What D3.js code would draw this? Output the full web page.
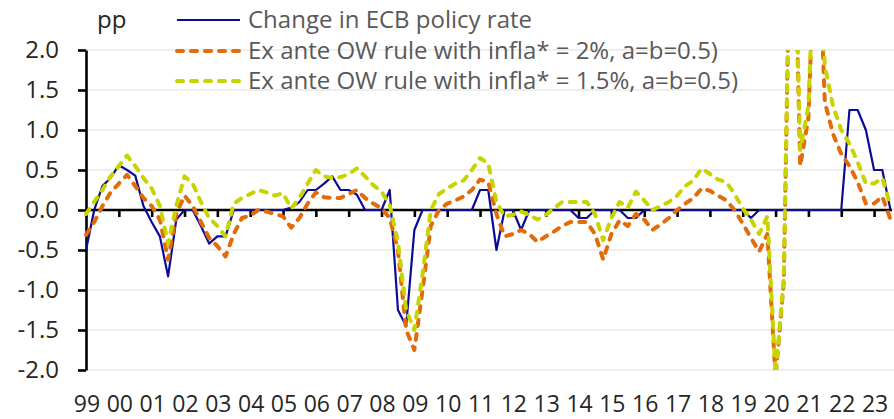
<!DOCTYPE html>
<html><head><meta charset="utf-8">
<script src="https://cdn.jsdelivr.net/npm/d3@7"></script>
<style>
html,body{margin:0;padding:0;background:#fff;}
svg{display:block;font-family:"Open Sans",sans-serif;}
</style></head>
<body><svg id="chart" width="894" height="419"></svg>
<script>
// ---- data ----
const yearLabels = ["99","00","01","02","03","04","05","06","07","08","09","10","11","12","13","14","15","16","17","18","19","20","21","22","23"];
const quarterNames = ["Q1","Q2","Q3","Q4"];
const categories = yearLabels.flatMap(y => quarterNames.map(q => y + q)).slice(0, 99);
const yTickValues = [-2, -1.5, -1, -0.5, 0, 0.5, 1, 1.5, 2];
const seriesNames = ["Change in ECB policy rate", "Ex ante OW rule with infla* = 2%, a=b=0.5)", "Ex ante OW rule with infla* = 1.5%, a=b=0.5)"];

const policyRate = [
 -0.5, 0.0, 0.3, 0.4, 0.56, 0.5, 0.43, 0.05, -0.15, -0.33, -0.83, -0.12,
 0, 0, -0.2, -0.42, -0.33, -0.33, 0, 0, 0, 0, 0, 0,
 0, 0.03, 0.1, 0.25, 0.25, 0.33, 0.42, 0.25, 0.25, 0.19, 0, 0,
 0, 0.25, -1.25, -1.45, -0.25, 0, 0, 0, 0, 0, 0, 0,
 0.25, 0.25, -0.5, 0, 0, -0.25, 0, 0, 0, 0, 0, 0,
 -0.1, -0.1, 0, 0, 0, 0, -0.1, -0.1, 0, 0, 0, 0,
 0, 0, 0, 0, 0, 0, 0, 0, 0, -0.1, 0, 0,
 0, 0, 0, 0, 0, 0, 0, 0, 0, 1.25, 1.25, 1.0,
 0.5, 0.5, 0
];
const owRule2 = [
 -0.31, -0.15, 0.05, 0.22, 0.33, 0.44, 0.3, 0.15, 0.05, -0.12, -0.62, -0.05,
 0.18, 0.05, -0.15, -0.35, -0.45, -0.58, -0.3, -0.1, -0.07, 0.0, -0.02, -0.05,
 -0.08, -0.22, -0.1, 0.08, 0.22, 0.16, 0.15, 0.15, 0.2, 0.25, 0.15, 0.08,
 0.02, -0.1, -0.5, -1.5, -1.75, -1.0, -0.2, 0.0, 0.08, 0.12, 0.17, 0.25,
 0.38, 0.35, -0.05, -0.33, -0.3, -0.25, -0.3, -0.4, -0.33, -0.27, -0.2, -0.15,
 -0.15, -0.15, -0.3, -0.62, -0.3, -0.13, -0.2, -0.05, -0.12, -0.25, -0.18, -0.1,
 0.0, 0.08, 0.15, 0.27, 0.24, 0.18, 0.12, 0.0, -0.17, -0.35, -0.52, -0.3,
 -2.1, -0.9, 5.0, 0.55, 1.15, 4.0, 1.35, 0.95, 0.7, 0.55, 0.35, 0.08,
 0.08, 0.17, -0.12
];
const owRule15 = [
 -0.05, 0.1, 0.25, 0.42, 0.55, 0.68, 0.55, 0.4, 0.27, 0.05, -0.42, 0.05,
 0.42, 0.33, 0.1, -0.1, -0.2, -0.33, 0.08, 0.15, 0.2, 0.25, 0.22, 0.18,
 0.21, 0.02, 0.15, 0.33, 0.5, 0.42, 0.4, 0.41, 0.45, 0.52, 0.42, 0.31,
 0.23, 0.06, -0.4, -1.25, -1.5, -0.8, 0.0, 0.2, 0.27, 0.33, 0.37, 0.5,
 0.65, 0.58, 0.1, -0.08, -0.06, -0.02, -0.06, -0.12, -0.06, 0.02, 0.1, 0.1,
 0.1, 0.1, -0.05, -0.38, -0.1, 0.1, 0.03, 0.23, 0.12, 0.0, 0.05, 0.1,
 0.18, 0.3, 0.37, 0.52, 0.45, 0.38, 0.35, 0.2, 0.02, -0.12, -0.3, -0.08,
 -2.05, -0.85, 5.0, 0.75, 1.3, 4.0, 1.8, 1.3, 1.0, 0.83, 0.6, 0.33,
 0.33, 0.4, 0.05
];

// ---- chart ----
const W = 894, H = 419;
const FONT = "24px";
const svg = d3.select("#chart");
svg.append("rect").attr("width", W).attr("height", H).attr("fill", "#fff");

const x = d3.scalePoint().domain(categories).range([86, 890.5]);
const y = d3.scaleLinear().domain([-2, 2]).range([370, 50]);

// gridlines
svg.append("g").selectAll("line").data(yTickValues).join("line")
  .attr("x1", 86).attr("x2", W).attr("y1", d => y(d)).attr("y2", d => y(d))
  .attr("stroke", "#e8e8e8").attr("stroke-width", 1.5);

// y axis
const yAxis = svg.append("g").attr("transform", "translate(86,0)")
  .call(d3.axisLeft(y).tickValues(yTickValues).tickSize(8).tickSizeOuter(0).tickPadding(19)
        .tickFormat(d => d.toFixed(1)));
yAxis.select(".domain").attr("stroke", "#000").attr("stroke-width", 2.6);
yAxis.selectAll(".tick line").attr("stroke", "#000").attr("stroke-width", 2.6);
yAxis.selectAll(".tick text").attr("fill", "#262626").style("font-size", FONT)
  .style("font-family", "'Open Sans',sans-serif");

// x axis (zero line with year ticks)
const yearStarts = categories.filter(c => c.endsWith("Q1"));
const xAxis = svg.append("g").attr("transform", `translate(0,${y(0)})`)
  .call(d3.axisBottom(x).tickValues(yearStarts).tickSize(7).tickSizeOuter(0).tickFormat(""));
xAxis.select(".domain").remove();
xAxis.selectAll(".tick line").attr("stroke", "#000").attr("stroke-width", 2.6);
xAxis.append("line").attr("x1", 86).attr("x2", 892).attr("y1", 0).attr("y2", 0)
  .attr("stroke", "#000").attr("stroke-width", 2.6);

// x labels at bottom
svg.append("g").selectAll("text").data(yearStarts).join("text")
  .attr("x", d => x(d) + 1).attr("y", 412)
  .attr("text-anchor", "middle").attr("fill", "#262626")
  .style("font-size", "23px").text(d => d.slice(0, 2));

// clip
svg.append("clipPath").attr("id", "plotclip").append("rect")
  .attr("x", 80).attr("y", y(2)).attr("width", W - 80).attr("height", y(-2) - y(2));

const line = d3.line().x((d, i) => x(categories[i])).y(d => y(d));
const plot = svg.append("g").attr("clip-path", "url(#plotclip)");

const styles = [
  {data: policyRate, color: "#0b0b96", width: 2.2, dash: null},
  {data: owRule2, color: "#e36c0a", width: 4, dash: "6,8"},
  {data: owRule15, color: "#c8d400", width: 4, dash: "6,8"}
];
styles.forEach(s => {
  plot.append("path").datum(s.data).attr("d", line)
    .attr("fill", "none").attr("stroke", s.color).attr("stroke-width", s.width)
    .attr("stroke-linejoin", "round")
    .attr("stroke-linecap", s.dash ? "round" : "butt")
    .attr("stroke-dasharray", s.dash);
});

// "pp" label
svg.append("text").attr("x", 97).attr("y", 28).attr("fill", "#262626")
  .style("font-size", FONT).text("pp");

// legend
const lg = svg.append("g");
const legendY = [20, 51, 81];
styles.forEach((s, i) => {
  lg.append("line").attr("x1", 177).attr("x2", 240).attr("y1", legendY[i]).attr("y2", legendY[i])
    .attr("stroke", s.color).attr("stroke-width", s.width)
    .attr("stroke-linecap", s.dash ? "round" : "butt")
    .attr("stroke-dasharray", s.dash);
  lg.append("text").attr("x", 248).attr("y", legendY[i] + 8).attr("fill", "#595959")
    .style("font-size", FONT).text(seriesNames[i]);
});
</script></body></html>
